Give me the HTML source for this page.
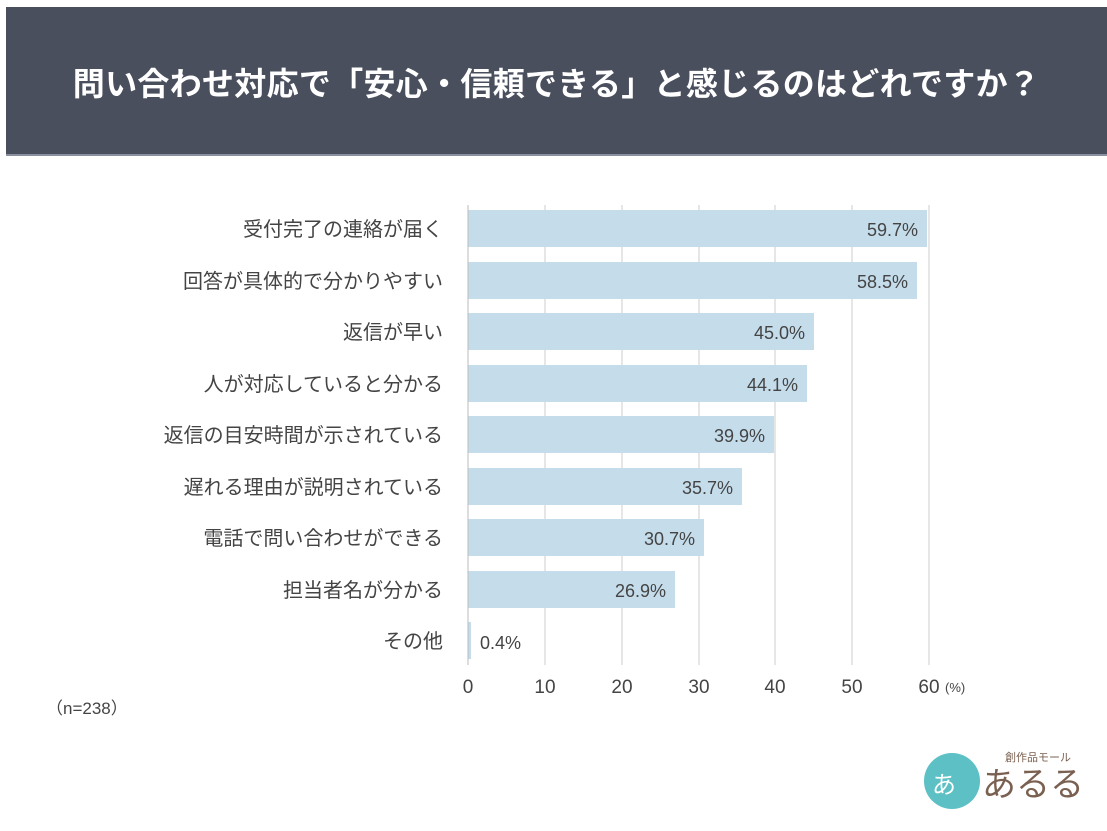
<!DOCTYPE html>
<html><head><meta charset="utf-8"><style>
body{margin:0;width:1107px;height:831px;background:#fff;overflow:hidden;font-family:"Liberation Sans","Noto Sans CJK JP",sans-serif;}
.hd{position:absolute;left:6px;top:7px;width:1101px;height:147px;background:#4a4f5e;border-bottom:2px solid #8a90a0;}
.hd div{position:absolute;left:0;right:0;top:52px;text-align:center;color:#fff;font-size:32px;font-weight:bold;letter-spacing:0.3px;}
</style></head><body>
<div class="hd"><div>問い合わせ対応で「安心・信頼できる」と感じるのはどれですか？</div></div>
<svg width="1107" height="831" style="position:absolute;left:0;top:0" font-family="Liberation Sans, Noto Sans CJK JP, sans-serif">
<g stroke="#dedede" stroke-width="1.5">
<line x1="545" y1="205" x2="545" y2="665"/><line x1="622" y1="205" x2="622" y2="665"/><line x1="699" y1="205" x2="699" y2="665"/><line x1="775" y1="205" x2="775" y2="665"/><line x1="852" y1="205" x2="852" y2="665"/><line x1="929" y1="205" x2="929" y2="665"/>
</g>
<g fill="#c5dceb">
<rect x="468" y="210" width="459" height="37"/>
<rect x="468" y="262" width="449" height="37"/>
<rect x="468" y="313" width="346" height="37"/>
<rect x="468" y="365" width="339" height="37"/>
<rect x="468" y="416" width="306" height="37"/>
<rect x="468" y="468" width="274" height="37"/>
<rect x="468" y="519" width="236" height="37"/>
<rect x="468" y="571" width="207" height="37"/>
<rect x="468" y="622" width="3" height="37"/>
</g>
<line x1="468" y1="205" x2="468" y2="665" stroke="#bbb" stroke-width="1"/>
<g fill="#444" font-size="20" text-anchor="end">
<text x="443" y="236">受付完了の連絡が届く</text>
<text x="443" y="288">回答が具体的で分かりやすい</text>
<text x="443" y="339">返信が早い</text>
<text x="443" y="391">人が対応していると分かる</text>
<text x="443" y="442">返信の目安時間が示されている</text>
<text x="443" y="494">遅れる理由が説明されている</text>
<text x="443" y="545">電話で問い合わせができる</text>
<text x="443" y="597">担当者名が分かる</text>
<text x="443" y="648">その他</text>
</g>
<g fill="#444" font-size="18" text-anchor="end">
<text x="918" y="236">59.7%</text>
<text x="908" y="288">58.5%</text>
<text x="805" y="339">45.0%</text>
<text x="798" y="391">44.1%</text>
<text x="765" y="442">39.9%</text>
<text x="733" y="494">35.7%</text>
<text x="695" y="545">30.7%</text>
<text x="666" y="597">26.9%</text>
<text x="521" y="649">0.4%</text>
</g>
<g fill="#444" font-size="19" text-anchor="middle">
<text x="468" y="693">0</text><text x="545" y="693">10</text><text x="622" y="693">20</text><text x="699" y="693">30</text><text x="775" y="693">40</text><text x="852" y="693">50</text><text x="929" y="693">60</text>
</g>
<text x="945" y="692" font-size="13" fill="#444">(%)</text>
<text x="46" y="714" font-size="17" fill="#444">（n=238）</text>
<circle cx="952" cy="781" r="28" fill="#5cc0c4"/>
<text x="932" y="793" font-size="24" fill="#fff">あ</text>
<text x="1005" y="761" font-size="11" fill="#7a6050">創作品モール</text>
<text x="982" y="796" font-size="34" fill="#7a6050">あるる</text>
</svg>
</body></html>
